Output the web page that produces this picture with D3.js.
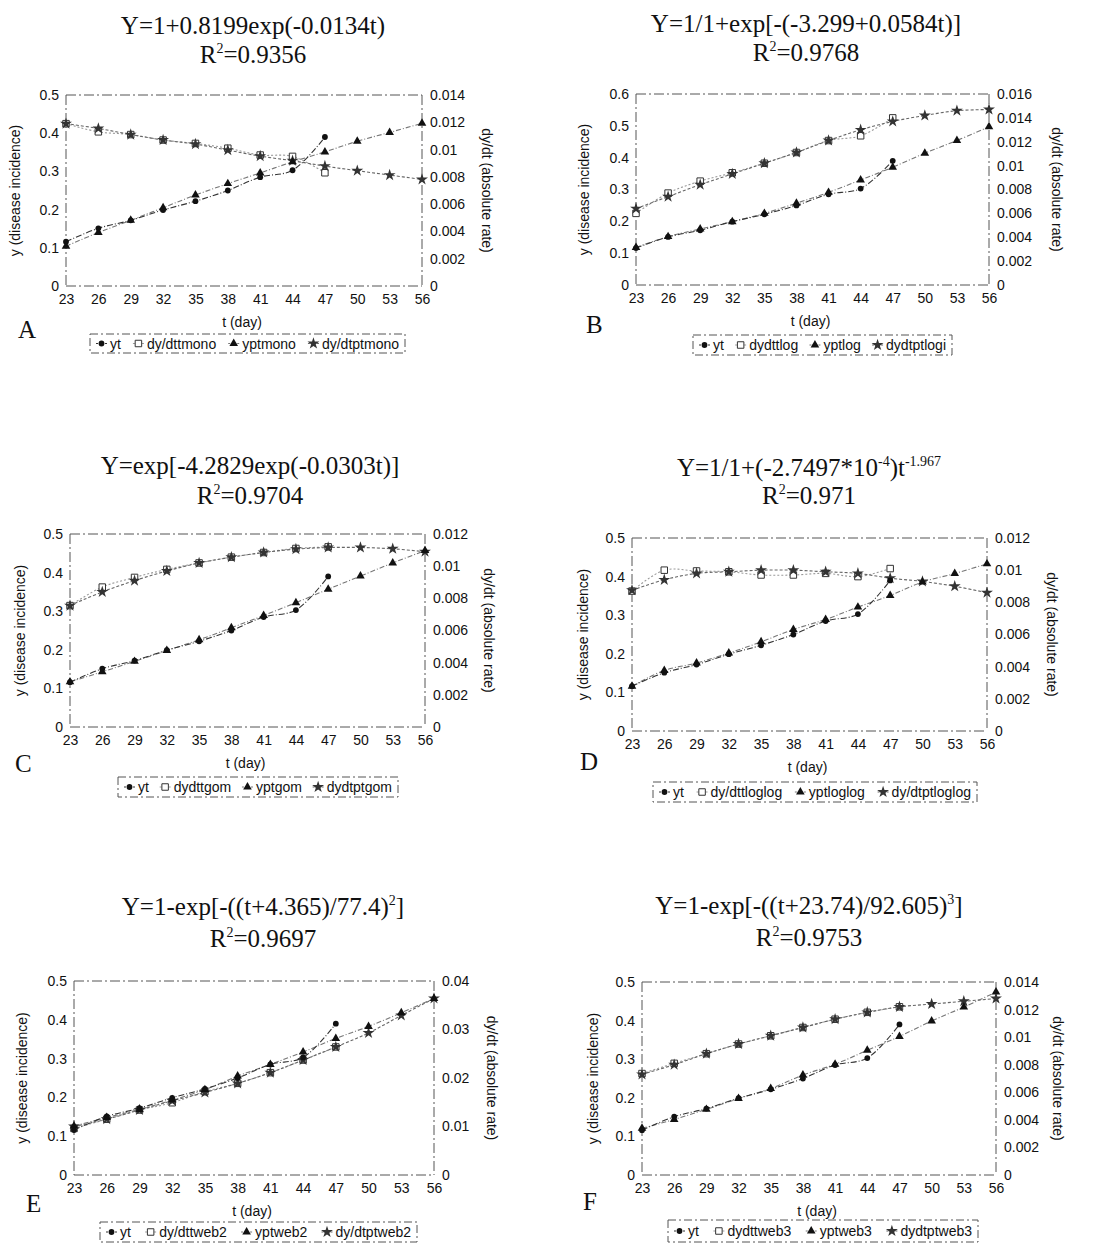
<!DOCTYPE html>
<html>
<head>
<meta charset="utf-8">
<script src="https://cdn.jsdelivr.net/npm/d3@7"></script>
<style>
  body { margin: 0; background: #fff; }
  text { font-family: "Liberation Sans", Arial, sans-serif; fill: #111; }
  .title { font-family: "Liberation Serif", "Times New Roman", serif; font-size: 25px; }
  .letter { font-family: "Liberation Serif", "Times New Roman", serif; font-size: 25px; }
  .lab { font-size: 14px; }
  .leg { font-size: 14px; }
</style>
</head>
<body>
<svg id="fig" width="1093" height="1244"></svg>
<script>
// days of observation and prediction
var days = [23, 26, 29, 32, 35, 38, 41, 44, 47, 50, 53, 56];
var obsDays = [23, 26, 29, 32, 35, 38, 41, 44, 47];

// observed disease incidence (same in every panel)
var yt = [0.116, 0.151, 0.172, 0.199, 0.222, 0.25, 0.285, 0.303, 0.39];

// A - monomolecular
var yptMono = [0.104, 0.14, 0.172, 0.205, 0.238, 0.268, 0.296, 0.325, 0.351, 0.379, 0.402, 0.426];
var dydtMono = [0.0119, 0.0113, 0.0111, 0.0107, 0.01045, 0.0101, 0.0096, 0.0095, 0.0083];
var dydtptMono = [0.0119, 0.01155, 0.0111, 0.0107, 0.0104, 0.00996, 0.00952, 0.00918, 0.00879, 0.00845, 0.00813, 0.00781];

// B - logistic
var yptLog = [0.118, 0.152, 0.176, 0.199, 0.225, 0.257, 0.291, 0.33, 0.37, 0.414, 0.454, 0.497];
var dydtLog = [0.006, 0.0077, 0.0087, 0.0094, 0.0102, 0.0111, 0.0121, 0.0125, 0.014];
var dydtptLog = [0.0064, 0.0074, 0.0084, 0.0093, 0.0102, 0.0111, 0.0121, 0.013, 0.0137, 0.0142, 0.0146, 0.0147];

// C - gompertz
var yptGom = [0.117, 0.143, 0.17, 0.198, 0.226, 0.257, 0.289, 0.322, 0.357, 0.391, 0.425, 0.457];
var dydtGom = [0.00755, 0.0087, 0.0093, 0.0098, 0.0102, 0.01056, 0.01085, 0.0111, 0.0112];
var dydtptGom = [0.00755, 0.0084, 0.0091, 0.0097, 0.0102, 0.01056, 0.01085, 0.01106, 0.01116, 0.01116, 0.01108, 0.0109];

// D - log-logistic
var yptLoglog = [0.116, 0.157, 0.176, 0.202, 0.231, 0.263, 0.289, 0.321, 0.351, 0.386, 0.408, 0.433];
var dydtLoglog = [0.0087, 0.01, 0.00995, 0.0099, 0.0097, 0.0097, 0.0098, 0.0096, 0.0101];
var dydtptLoglog = [0.00875, 0.0094, 0.0098, 0.0099, 0.01, 0.01, 0.0099, 0.0098, 0.0095, 0.0093, 0.009, 0.0086];

// E - weibull 2
var yptWeb2 = [0.126, 0.148, 0.169, 0.193, 0.22, 0.255, 0.285, 0.317, 0.352, 0.383, 0.418, 0.455];
var dydtWeb2 = [0.0096, 0.0115, 0.0134, 0.0149, 0.0172, 0.0189, 0.0211, 0.0237, 0.0264];
var dydtptWeb2 = [0.01, 0.0115, 0.0134, 0.0153, 0.017, 0.0189, 0.0211, 0.0237, 0.0264, 0.0293, 0.0329, 0.0364];

// F - weibull 3
var yptWeb3 = [0.121, 0.144, 0.17, 0.198, 0.224, 0.259, 0.287, 0.323, 0.359, 0.399, 0.435, 0.474];
var dydtWeb3 = [0.00736, 0.0081, 0.0088, 0.0095, 0.0101, 0.0107, 0.0113, 0.0118, 0.0122];
var dydtptWeb3 = [0.0073, 0.008, 0.0088, 0.0095, 0.0101, 0.0107, 0.0113, 0.0118, 0.0122, 0.0124, 0.0126, 0.0128];

// tick labels
var leftTicks5 = [0, 0.1, 0.2, 0.3, 0.4, 0.5];
var leftTicks6 = [0, 0.1, 0.2, 0.3, 0.4, 0.5, 0.6];
var rightTicks14 = [0, 0.002, 0.004, 0.006, 0.008, 0.01, 0.012, 0.014];
var rightTicks16 = [0, 0.002, 0.004, 0.006, 0.008, 0.01, 0.012, 0.014, 0.016];
var rightTicks12 = [0, 0.002, 0.004, 0.006, 0.008, 0.01, 0.012];
var rightTicks40 = [0, 0.01, 0.02, 0.03, 0.04];

// titles: pieces [text, superscript?]
var titleA = [[["Y=1+0.8199exp(-0.0134t)"]], [["R"], ["2", 1], ["=0.9356"]]];
var titleB = [[["Y=1/1+exp[-(-3.299+0.0584t)]"]], [["R"], ["2", 1], ["=0.9768"]]];
var titleC = [[["Y=exp[-4.2829exp(-0.0303t)]"]], [["R"], ["2", 1], ["=0.9704"]]];
var titleD = [[["Y=1/1+(-2.7497*10"], ["-4", 1], [")t"], ["-1.967", 1]], [["R"], ["2", 1], ["=0.971"]]];
var titleE = [[["Y=1-exp[-((t+4.365)/77.4)"], ["2", 1], ["]"]], [["R"], ["2", 1], ["=0.9697"]]];
var titleF = [[["Y=1-exp[-((t+23.74)/92.605)"], ["3", 1], ["]"]], [["R"], ["2", 1], ["=0.9753"]]];

var legendMono = ["yt", "dy/dttmono", "yptmono", "dy/dtptmono"];
var legendLog = ["yt", "dydttlog", "yptlog", "dydtptlogi"];
var legendGom = ["yt", "dydttgom", "yptgom", "dydtptgom"];
var legendLoglog = ["yt", "dy/dttloglog", "yptloglog", "dy/dtptloglog"];
var legendWeb2 = ["yt", "dy/dttweb2", "yptweb2", "dy/dtptweb2"];
var legendWeb3 = ["yt", "dydttweb3", "yptweb3", "dydtptweb3"];

var panels = [
  {letter: "A", title: titleA, ypt: yptMono, dydt: dydtMono, dydtpt: dydtptMono, lt: leftTicks5, rt: rightTicks14, legend: legendMono,
   l: 66, r: 422, t: 95, b: 286, cx: 253, t1: 34, t2: 63, lx: 18, ly: 338, box: [90, 334, 315, 19], ylx: 15, rlx: 487},
  {letter: "B", title: titleB, ypt: yptLog, dydt: dydtLog, dydtpt: dydtptLog, lt: leftTicks6, rt: rightTicks16, legend: legendLog,
   l: 636, r: 989, t: 94, b: 285, cx: 806, t1: 32, t2: 61, lx: 586, ly: 333, box: [693, 335, 259, 20], ylx: 584, rlx: 1057},
  {letter: "C", title: titleC, ypt: yptGom, dydt: dydtGom, dydtpt: dydtptGom, lt: leftTicks5, rt: rightTicks12, legend: legendGom,
   l: 70, r: 425, t: 534, b: 727, cx: 250, t1: 474, t2: 504, lx: 15, ly: 772, box: [118, 777, 280, 20], ylx: 20, rlx: 489},
  {letter: "D", title: titleD, ypt: yptLoglog, dydt: dydtLoglog, dydtpt: dydtptLoglog, lt: leftTicks5, rt: rightTicks12, legend: legendLoglog,
   l: 632, r: 987, t: 538, b: 731, cx: 809, t1: 476, t2: 504, lx: 580, ly: 770, box: [653, 782, 324, 20], ylx: 583, rlx: 1052},
  {letter: "E", title: titleE, ypt: yptWeb2, dydt: dydtWeb2, dydtpt: dydtptWeb2, lt: leftTicks5, rt: rightTicks40, legend: legendWeb2,
   l: 74, r: 434, t: 981, b: 1175, cx: 263, t1: 915, t2: 947, lx: 26, ly: 1212, box: [100, 1222, 317, 20], ylx: 22, rlx: 492},
  {letter: "F", title: titleF, ypt: yptWeb3, dydt: dydtWeb3, dydtpt: dydtptWeb3, lt: leftTicks5, rt: rightTicks14, legend: legendWeb3,
   l: 642, r: 996, t: 982, b: 1175, cx: 809, t1: 914, t2: 946, lx: 583, ly: 1210, box: [668, 1220, 310, 22], ylx: 593, rlx: 1058}
];

var svg = d3.select("#fig");
var fmt = function(d) { return String(+d.toFixed(4)); };

// series styles: yt, dydt, ypt, dydtpt
var styles = [
  {sym: "circle", stroke: "#333", dash: "6,2,1,2"},
  {sym: "square", stroke: "#999", dash: "2,2"},
  {sym: "triangle", stroke: "#777", dash: "5,2,1,2"},
  {sym: "star", stroke: "#666", dash: "3,2"}
];

function marker(g, kind, x, y) {
  if (kind == "circle") {
    g.append("circle").attr("cx", x).attr("cy", y).attr("r", 2.9).attr("fill", "#111");
  } else if (kind == "square") {
    g.append("path").attr("d", d3.symbol(d3.symbolSquare, 42)())
      .attr("transform", "translate(" + x + "," + y + ")")
      .attr("fill", "#fff").attr("stroke", "#333").attr("stroke-width", 1);
  } else if (kind == "triangle") {
    g.append("path").attr("d", d3.symbol(d3.symbolTriangle, 32)())
      .attr("transform", "translate(" + x + "," + y + ")").attr("fill", "#111");
  } else {
    g.append("path").attr("d", d3.symbol(d3.symbolStar, 44)())
      .attr("transform", "translate(" + x + "," + y + ")").attr("fill", "#333");
  }
}

function addTitleLine(g, pieces, x, y) {
  var t = g.append("text").attr("class", "title").attr("x", x).attr("y", y).attr("text-anchor", "middle");
  pieces.forEach(function(p) {
    var s = t.append("tspan").text(p[0]);
    if (p[1]) s.attr("font-size", "14px").attr("baseline-shift", "75%");
  });
}

panels.forEach(function(p) {
  var g = svg.append("g");
  var x = d3.scaleLinear().domain([23, 56]).range([p.l, p.r]);
  var y = d3.scaleLinear().domain([0, d3.max(p.lt)]).range([p.b, p.t]);
  var y2 = d3.scaleLinear().domain([0, d3.max(p.rt)]).range([p.b, p.t]);

  addTitleLine(g, p.title[0], p.cx, p.t1);
  addTitleLine(g, p.title[1], p.cx, p.t2);

  // frame
  var frame = [[p.l, p.t, p.r, p.t], [p.l, p.b, p.r, p.b], [p.l, p.t, p.l, p.b], [p.r, p.t, p.r, p.b]];
  g.selectAll(".frame").data(frame).enter().append("line")
    .attr("x1", function(d) { return d[0]; }).attr("y1", function(d) { return d[1]; })
    .attr("x2", function(d) { return d[2]; }).attr("y2", function(d) { return d[3]; })
    .attr("stroke", "#555").attr("stroke-width", 1).attr("stroke-dasharray", "10,3,2,3");

  // axes
  var ax = g.append("g").attr("transform", "translate(0," + p.b + ")")
    .call(d3.axisBottom(x).tickValues(days).tickSize(0).tickPadding(8).tickFormat(d3.format("d")));
  var al = g.append("g").attr("transform", "translate(" + p.l + ",0)")
    .call(d3.axisLeft(y).tickValues(p.lt).tickSize(0).tickPadding(7).tickFormat(fmt));
  var ar = g.append("g").attr("transform", "translate(" + p.r + ",0)")
    .call(d3.axisRight(y2).tickValues(p.rt).tickSize(0).tickPadding(8).tickFormat(fmt));
  [ax, al, ar].forEach(function(a) {
    a.select(".domain").remove();
    a.selectAll("text").attr("fill", "#111").style("font-size", "14px")
      .style("font-family", "\"Liberation Sans\", Arial, sans-serif");
  });

  // axis labels
  var cy = (p.t + p.b) / 2;
  g.append("text").attr("class", "lab").attr("text-anchor", "middle")
    .attr("transform", "translate(" + p.ylx + "," + cy + ") rotate(-90)").attr("dy", "0.35em")
    .text("y (disease incidence)");
  g.append("text").attr("class", "lab").attr("text-anchor", "middle")
    .attr("transform", "translate(" + p.rlx + "," + cy + ") rotate(90)").attr("dy", "0.35em")
    .text("dy/dt (absolute rate)");
  g.append("text").attr("class", "lab").attr("text-anchor", "middle")
    .attr("x", (p.l + p.r) / 2 - 2).attr("y", p.b + 41).text("t (day)");
  g.append("text").attr("class", "letter").attr("x", p.lx).attr("y", p.ly).text(p.letter);

  // series
  var series = [
    {xs: obsDays, vs: yt, sc: y, st: styles[0]},
    {xs: obsDays, vs: p.dydt, sc: y2, st: styles[1]},
    {xs: days, vs: p.ypt, sc: y, st: styles[2]},
    {xs: days, vs: p.dydtpt, sc: y2, st: styles[3]}
  ];
  var drawOrder = [1, 3, 2, 0];
  drawOrder.forEach(function(i) {
    var s = series[i];
    var pts = s.xs.map(function(d, j) { return [x(d), s.sc(s.vs[j])]; });
    g.append("path").datum(pts)
      .attr("fill", "none").attr("stroke", s.st.stroke).attr("stroke-width", 1.1)
      .attr("stroke-dasharray", s.st.dash)
      .attr("d", d3.line().curve(d3.curveCatmullRom.alpha(0.5)));
  });
  drawOrder.forEach(function(i) {
    var s = series[i];
    s.xs.forEach(function(d, j) { marker(g, s.st.sym, x(d), s.sc(s.vs[j])); });
  });

  // legend
  var bx = p.box[0], by = p.box[1], bw = p.box[2], bh = p.box[3];
  g.append("rect").attr("x", bx).attr("y", by).attr("width", bw).attr("height", bh)
    .attr("fill", "none").attr("stroke", "#555").attr("stroke-dasharray", "8,3,2,3");
  var lg = g.append("g");
  var texts = p.legend.map(function(name, i) {
    return lg.append("text").attr("class", "leg").attr("y", by + bh / 2).attr("dy", "0.36em").text(name);
  });
  var widths = texts.map(function(t) { return t.node().getComputedTextLength(); });
  var used = d3.sum(widths) + 4 * 14;
  var gap = (bw - 12 - used) / 3;
  var cur = bx + 6;
  texts.forEach(function(t, i) {
    lg.append("line").attr("x1", cur).attr("x2", cur + 11).attr("y1", by + bh / 2).attr("y2", by + bh / 2)
      .attr("stroke", styles[i].stroke).attr("stroke-dasharray", "2,1");
    marker(lg, styles[i].sym, cur + 5.5, by + bh / 2);
    t.attr("x", cur + 14);
    cur += 14 + widths[i] + gap;
  });
});
</script>
</body>
</html>
